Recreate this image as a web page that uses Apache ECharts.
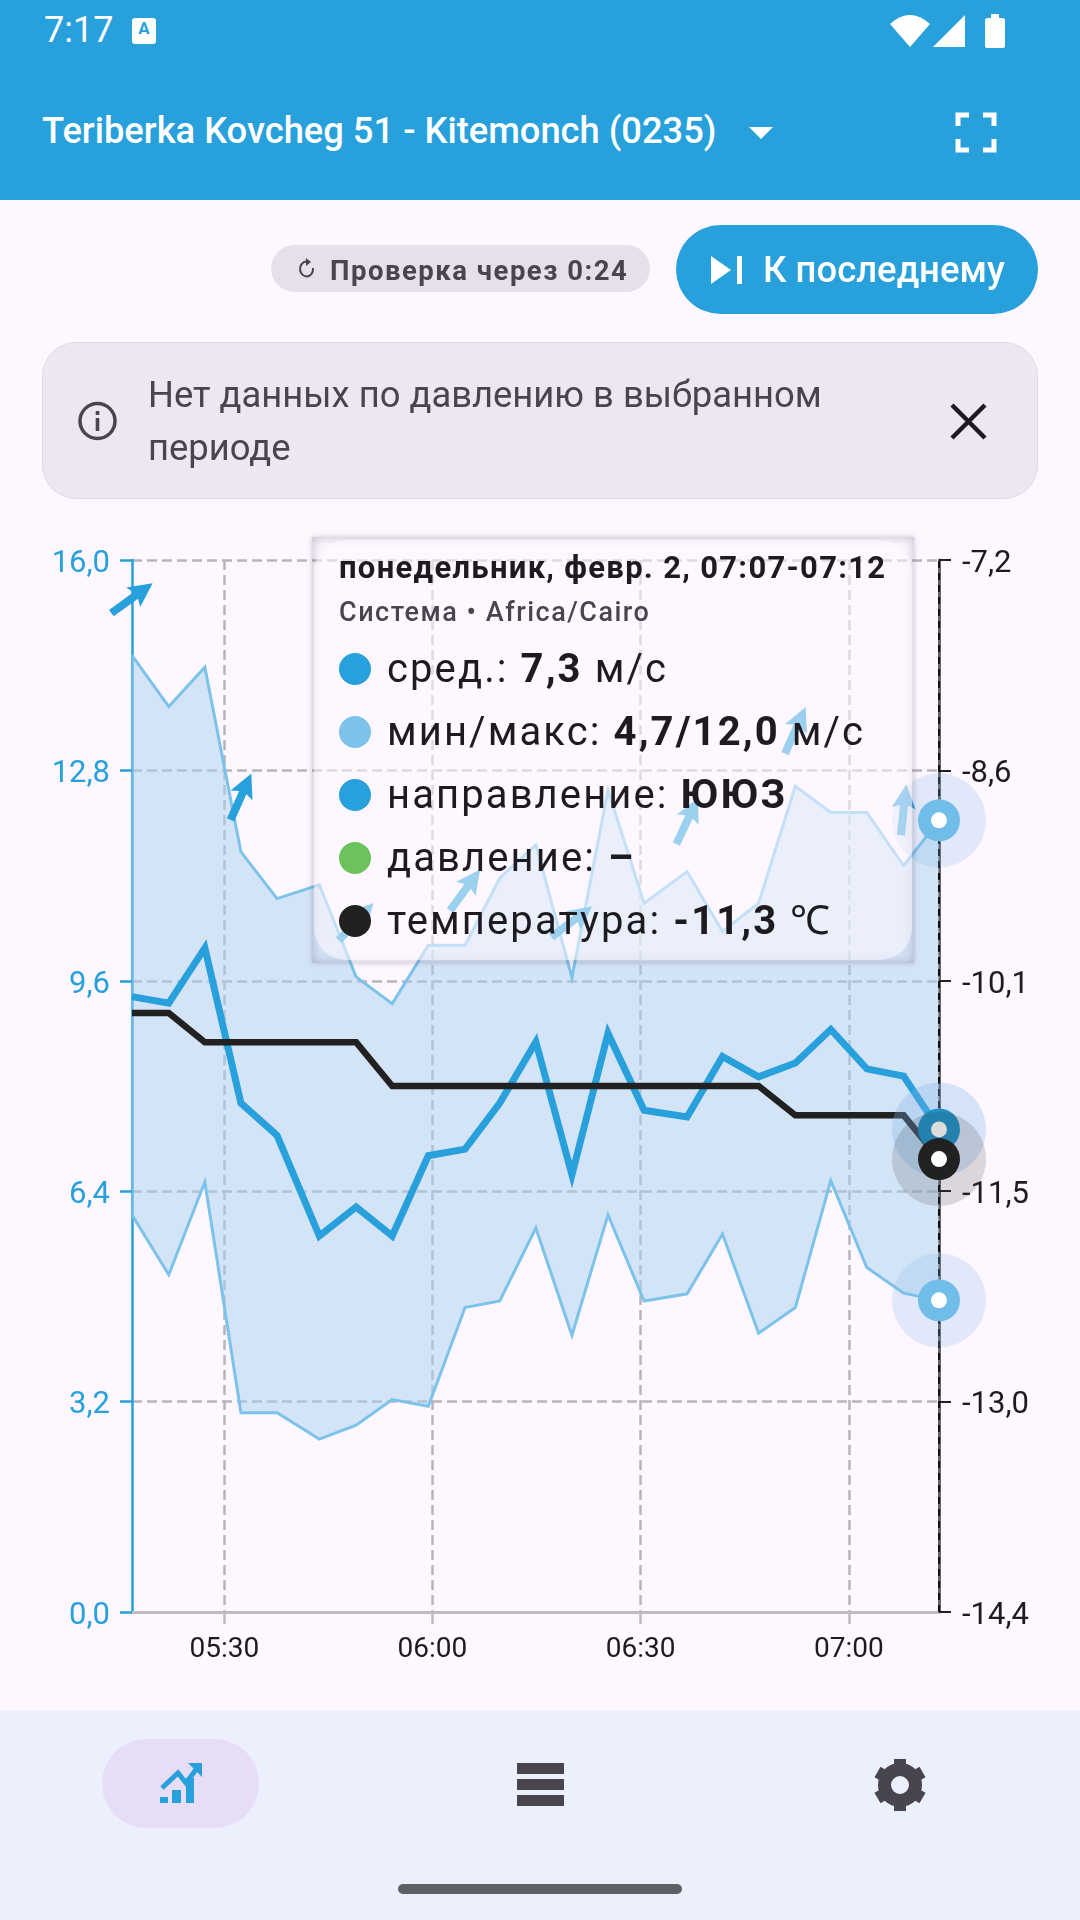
<!DOCTYPE html>
<html><head><meta charset="utf-8">
<script src="https://cdn.jsdelivr.net/npm/echarts@6/dist/echarts.min.js"></script>
<style>
html,body{margin:0;padding:0;background:#fef7ff;width:1080px;height:1920px;overflow:hidden;font-family:Roboto,sans-serif}
#chart{position:absolute;left:0;top:0;width:1080px;height:1920px}
.a{position:absolute;white-space:nowrap}
.t{position:absolute;white-space:nowrap;transform:translateY(-50%);line-height:1.2}
svg{position:absolute;overflow:visible}
.tipwrap{position:relative;width:602px;height:426px;font-family:Roboto,sans-serif;color:#1d1b20}
.tipsq{position:absolute;left:0;top:0;width:100%;height:100%;box-shadow:0 0 5px rgba(90,90,110,.3),inset 0 0 12px rgba(90,90,110,.38)}
.tipin{position:absolute;left:2px;top:3px;width:598px;height:420px;border-radius:32px;background:rgba(254,247,255,.55)}
.tl{position:absolute;left:75px;white-space:nowrap;font-size:40px;letter-spacing:2.1px;transform:translateY(-50%);line-height:1.2}
.tl b{font-weight:700}
.dot{position:absolute;left:27px;width:32px;height:32px;border-radius:50%;transform:translateY(-50%)}
</style></head>
<body>
<div id="chart"></div>
<!-- app bar -->
<div class="a" style="left:0;top:0;width:1080px;height:200px;background:#27a0dc"></div>
<div class="t" style="left:44px;top:31px;font-size:36px;color:#fff">7:17</div>
<div class="a" style="left:132px;top:18px;width:24px;height:26px;background:#fff;border-radius:3px;color:#27a0dc;font-size:17px;font-weight:700;line-height:20px;text-align:center">A</div>
<svg style="left:0;top:0" width="1080" height="200">
<path d="M890 24 Q910 6 930 24 L910 47 Z" fill="#fff"/>
<path d="M965 15 L965 47 L933 47 Z" fill="#fff"/>
<path d="M985 20 Q985 18 988 18 L991 18 L991 14 L999 14 L999 18 L1002 18 Q1005 18 1005 20 L1005 46 Q1005 48 1002 48 L988 48 Q985 48 985 46 Z" fill="#fff"/>
<path d="M749 127 L773 127 L761 139 Z" fill="#fff"/>
<path d="M958 126 V115 H969 M983 115 H994 V126 M994 139 V150 H983 M969 150 H958 V139" fill="none" stroke="#fff" stroke-width="5"/>
</svg>
<div class="t" style="left:42px;top:131px;font-size:36.3px;font-weight:500;color:#fff">Teriberka Kovcheg 51 - Kitemonch (0235)</div>
<!-- controls -->
<div class="a" style="left:271px;top:245px;width:379px;height:47px;border-radius:24px;background:#e7e0ec"></div>
<div class="a" style="left:676px;top:225px;width:362px;height:89px;border-radius:45px;background:#27a0dc"></div>
<div class="a" style="left:42px;top:342px;width:994px;height:155px;border-radius:34px;background:#eee7f3;border:1px solid #dfd9e5"></div>
<svg style="left:0;top:0" width="1080" height="520">
<path d="M313 268 A6.5 7.5 0 1 1 309 262" fill="none" stroke="#49454f" stroke-width="2"/>
<path d="M306 258 L311 262 L306 266 Z" fill="#49454f"/>
<path d="M711 256 L731 270 L711 284 Z" fill="#fff"/><rect x="737" y="256" width="5" height="28" fill="#fff"/>
<circle cx="97.5" cy="421" r="17.5" fill="none" stroke="#49454f" stroke-width="3.5"/>
<rect x="95.7" y="418" width="3.6" height="13" fill="#49454f"/><rect x="95.7" y="411" width="3.6" height="4" fill="#49454f"/>
<path d="M952 405 L985 438 M985 405 L952 438" stroke="#1d1b20" stroke-width="4.5"/>
</svg>
<div class="t" style="left:330px;top:270px;font-size:27.5px;font-weight:700;letter-spacing:1.5px;color:#49454f">Проверка через 0:24</div>
<div class="t" style="left:763px;top:270px;font-size:36.5px;font-weight:500;color:#fff">К последнему</div>
<div class="t" style="left:148px;top:395px;font-size:36.4px;color:#49454f">Нет данных по давлению в выбранном</div>
<div class="t" style="left:148px;top:448px;font-size:36.4px;color:#49454f">периоде</div>
<!-- bottom nav -->
<div class="a" style="left:0;top:1710px;width:1080px;height:210px;background:#ebf0fc"></div>
<div class="a" style="left:102px;top:1739px;width:157px;height:89px;border-radius:45px;background:#e8ddf6"></div>
<svg style="left:0;top:1700px" width="1080" height="220">
<path d="M162 88 L178 73 L186 83 L198 67" fill="none" stroke="#27a0dc" stroke-width="5"/>
<path d="M188 63 H202 V77 Z" fill="#27a0dc"/>
<rect x="160" y="97" width="8" height="6" fill="#27a0dc"/><rect x="172" y="90" width="9" height="13" fill="#27a0dc"/><rect x="186" y="78" width="8" height="25" fill="#27a0dc"/>
<rect x="517" y="63" width="47" height="11" fill="#49454f"/><rect x="517" y="79" width="47" height="11" fill="#49454f"/><rect x="517" y="95" width="47" height="11" fill="#49454f"/>
<circle cx="900" cy="85" r="15.5" fill="none" stroke="#49454f" stroke-width="13"/>
<g fill="#49454f"><rect x="894" y="59" width="12" height="12"/><rect x="894" y="99" width="12" height="12"/><rect x="894" y="59" width="12" height="12" transform="rotate(60 900 85)"/><rect x="894" y="99" width="12" height="12" transform="rotate(60 900 85)"/><rect x="894" y="59" width="12" height="12" transform="rotate(-60 900 85)"/><rect x="894" y="99" width="12" height="12" transform="rotate(-60 900 85)"/></g>
<rect x="398" y="184" width="284" height="10" rx="5" fill="#5f5f66"/>
</svg>

<script>
// Time of each sample, minutes after midnight (05:17 ... 07:13)
const timeMinutes = [316.7,322,327.2,332.4,337.6,343.7,349,354.2,359.4,364.7,369.7,374.9,380.1,385.3,390.5,396.7,401.8,407,412.3,417.4,422.6,427.9,433];
const avgWind = [9.36,9.26,10.1,7.74,7.25,5.72,6.16,5.72,6.94,7.04,7.74,8.67,6.65,8.8,7.63,7.53,8.45,8.14,8.35,8.86,8.26,8.15,7.34];
const maxWind = [14.55,13.77,14.37,11.56,10.85,11.06,9.66,9.25,10.14,10.14,11.16,11.67,9.65,12.5,10.78,11.26,10.35,10.78,12.56,12.16,12.16,11.35,12.04];
const minWind = [6.04,5.13,6.54,3.03,3.03,2.63,2.84,3.23,3.13,4.63,4.73,5.84,4.21,6.04,4.73,4.84,5.75,4.24,4.63,6.56,5.24,4.85,4.74];
const temperature = [-10.3,-10.3,-10.5,-10.5,-10.5,-10.5,-10.5,-10.8,-10.8,-10.8,-10.8,-10.8,-10.8,-10.8,-10.8,-10.8,-10.8,-10.8,-11,-11,-11,-11,-11.3];
// Wind-direction arrows: sample index, height on the wind axis, bearing in degrees
const arrowSamples = [0,3,6,9,12,15,18,21];
const arrowHeights = [15.42,12.4,10.5,10.98,10.5,12.03,13.41,12.2];
const arrowBearings = [54,24,43,36,53,25,24,6];
const xTickValues = [330,360,390,420];
const xTickLabels = ['05:30','06:00','06:30','07:00'];

const BLUE='#27a0dc', LIGHT='#7cc3ea', FILL='rgba(170,210,240,.5)', DARK='#212121';
const ARROW='path://M12,0 L24,24 L16,21 L16,51 L8,51 L8,21 L0,24 Z';
const last=timeMinutes.length-1, lastT=timeMinutes[last];
const pairs=a=>a.map((v,i)=>[timeMinutes[i],v]);
const comma=v=>'{v|'+v.toFixed(1).replace('.',',')+'}';
const plain={type:'line',showSymbol:false,symbol:'none',silent:true,emphasis:{disabled:true},animation:false,clip:false};
function marker(name,y,axis,color,halo,z){
  return [[94,halo,1],[42,color,2],[16,'#fff',3]].map(([size,c,dz])=>({
    type:'scatter',name,yAxisIndex:axis,data:[[lastT,y]],symbolSize:size,silent:true,animation:false,clip:false,
    itemStyle:{color:c,opacity:1},z:z+dz,emphasis:{disabled:true}}));
}
const tooltipHtml=()=>{
 const rows=[['#27a0dc','сред.: <b>7,3</b> м/с'],['#7cc3ea','мин/макс: <b>4,7/12,0</b> м/с'],['#27a0dc','направление: <b>ЮЮЗ</b>'],['#6cc25b','давление: <b>–</b>'],['#212121','температура: <b>-11,3</b> ℃']];
 return '<div class="tipwrap"><div class="tipsq"></div><div class="tipin"></div>'+
 '<div class="tl" style="left:27px;top:31px;font-size:31px;font-weight:700;letter-spacing:1.3px">понедельник, февр. 2, 07:07-07:12</div>'+
 '<div class="tl" style="left:27px;top:75px;font-size:27px;font-weight:500;letter-spacing:1.5px;color:#49454f">Система • Africa/Cairo</div>'+
 rows.map((r,i)=>{const y=132+i*63;return '<div class="dot" style="top:'+y+'px;background:'+r[0]+'"></div><div class="tl" style="top:'+y+'px">'+r[1]+'</div>';}).join('')+'</div>';
};
const chart=echarts.init(document.getElementById('chart'),null,{renderer:'canvas',width:1080,height:1920});
const bandSeries={type:'custom',name:'мин/макс',data:pairs(maxWind),silent:true,animation:false,clip:false,z:1,encode:{x:0,y:1},
 renderItem:(params,api)=>{
  if(params.dataIndex!==0) return;
  const upper=maxWind.map((v,i)=>api.coord([timeMinutes[i],v]));
  const lower=minWind.map((v,i)=>api.coord([timeMinutes[i],v])).reverse();
  return {type:'polygon',shape:{points:upper.concat(lower)},style:{fill:FILL}};
 }};
const GRIDLINE={color:'#b6b6ba',type:[10,5],width:2.5};
const labelRich=c=>({v:{fontSize:31,color:c,fontFamily:'Roboto',padding:[8,0,0,0]}});
chart.setOption({
 animation:false,backgroundColor:'transparent',
 textStyle:{fontFamily:'Roboto'},
 grid:{left:132,right:141,top:560,bottom:308,containLabel:false},
 tooltip:{trigger:'axis',alwaysShowContent:true,showContent:true,transitionDuration:0,position:[312,537],padding:0,borderWidth:0,backgroundColor:'transparent',
   extraCssText:'box-shadow:none;z-index:50',formatter:tooltipHtml,axisPointer:{type:'line',snap:true,z:5,lineStyle:{color:'#111',type:[7,5],width:2},label:{show:false},animation:false}},
 xAxis:{type:'value',min:timeMinutes[0],max:lastT,
  axisLine:{lineStyle:{color:'#bdbdbd',width:3},onZero:false},
  axisTick:{customValues:xTickValues,length:12,lineStyle:{color:'#bdbdbd',width:2.5}},
  axisLabel:{customValues:xTickValues,margin:24,fontSize:28,color:'#1d1b20',fontFamily:'Roboto',formatter:v=>xTickLabels[xTickValues.indexOf(v)]},
  splitLine:{show:true,lineStyle:GRIDLINE}},
 yAxis:[
  {type:'value',min:0,max:16,interval:3.2,position:'left',
   axisLine:{show:true,lineStyle:{color:BLUE,width:2.5}},axisTick:{show:true,length:12,lineStyle:{color:BLUE,width:2.5}},
   axisLabel:{margin:22,fontSize:31,color:BLUE,fontFamily:'Roboto',rich:labelRich(BLUE),formatter:comma},
   splitLine:{show:true,lineStyle:GRIDLINE}},
  {type:'value',min:-14.4,max:-7.2,interval:1.44,position:'right',
   axisLine:{show:true,lineStyle:{color:'#666',width:3}},axisTick:{show:true,length:12,lineStyle:{color:'#222',width:2}},
   axisLabel:{margin:23,fontSize:31,color:'#1d1b20',fontFamily:'Roboto',rich:labelRich('#1d1b20'),formatter:comma},
   splitLine:{show:false}}],
 series:[
  bandSeries,
  Object.assign({},plain,{name:'мин',data:pairs(minWind),lineStyle:{color:LIGHT,width:3,join:'miter'},z:3}),
  Object.assign({},plain,{name:'макс',data:pairs(maxWind),lineStyle:{color:LIGHT,width:3,join:'miter'},z:3}),
  Object.assign({},plain,{name:'сред.',data:pairs(avgWind),lineStyle:{color:BLUE,width:7,join:'miter'},z:4}),
  Object.assign({},plain,{name:'температура',yAxisIndex:1,data:pairs(temperature),lineStyle:{color:DARK,width:6.5,join:'miter'},z:5}),
  {type:'scatter',name:'направление',data:arrowSamples.map((s,i)=>({value:[timeMinutes[s],arrowHeights[i]],symbolRotate:-arrowBearings[i]})),
   symbol:ARROW,symbolSize:[24,51],itemStyle:{color:BLUE,opacity:1},silent:true,clip:false,animation:false,z:6,emphasis:{disabled:true}},
  ...marker('макс',maxWind[last],0,'#6fbde8','rgba(124,180,232,.22)',10),
  ...marker('мин',minWind[last],0,'#6fbde8','rgba(124,180,232,.22)',10),
  ...marker('сред.',avgWind[last],0,'#1f8fc6','rgba(124,180,232,.3)',14),
  ...marker('температура',temperature[last],1,'#212121','rgba(60,60,60,.18)',18)
 ]
});
const show=()=>chart.dispatchAction({type:'showTip',seriesIndex:3,dataIndex:last});
show();setTimeout(show,50);
</script>
</body></html>
